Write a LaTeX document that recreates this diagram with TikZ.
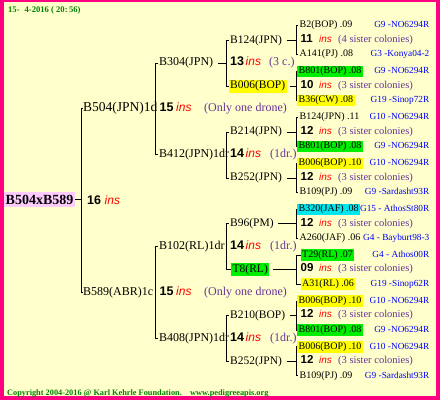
\documentclass[tikz,border=0pt]{standalone}
\usepackage{fontspec}
\setmainfont{Liberation Serif}
\newfontfamily\sansf{Liberation Sans}
\definecolor{bgy}{RGB}{255,255,204}
\definecolor{bord}{RGB}{255,0,128}
\definecolor{insred}{RGB}{255,0,0}
\definecolor{purp}{RGB}{102,51,153}
\definecolor{gblue}{RGB}{0,0,255}
\definecolor{hgreen}{RGB}{0,238,0}
\definecolor{hyellow}{RGB}{255,255,0}
\definecolor{hcyan}{RGB}{0,230,238}
\definecolor{rpink}{RGB}{255,204,255}
\definecolor{tgreen}{RGB}{0,128,0}
\begin{document}
\begin{tikzpicture}[x=1pt,y=-1pt,
  bs/.style={anchor=base west, inner sep=0pt},
  nmA/.style={bs, font=\fontsize{13.5}{14}\selectfont},
  nmB/.style={bs, inner xsep=1pt, font=\fontsize{12}{13}\selectfont},
  nmC/.style={bs, inner xsep=1.5pt, inner ysep=1.3pt, text height=8pt, text depth=2.6pt, font=\fontsize{11.5}{12}\selectfont},
  nmD/.style={bs, inner xsep=1.5pt, inner ysep=1pt, text height=7pt, text depth=2.3pt, font=\fontsize{10}{11}\selectfont},
  cntA/.style={bs, font=\sansf\bfseries\fontsize{12.5}{13}\selectfont},
  cntD/.style={bs, font=\sansf\bfseries\fontsize{11.5}{12}\selectfont},
  insA/.style={bs, text=insred, font=\sansf\itshape\fontsize{12}{13}\selectfont},
  insD/.style={bs, text=insred, font=\sansf\itshape\fontsize{10}{11}\selectfont},
  noteA/.style={bs, text=purp, font=\fontsize{12}{13}\selectfont},
  noteD/.style={bs, text=purp, font=\fontsize{10.5}{11}\selectfont},
  glab/.style={anchor=base east, inner sep=0pt, text=gblue, font=\fontsize{9.3}{10}\selectfont},
  foot/.style={anchor=base west, inner sep=0pt, text=tgreen, font=\bfseries\fontsize{8.3}{9}\selectfont},
  hy/.style={fill=hyellow}, hg/.style={fill=hgreen}, hc/.style={fill=hcyan},
  ln/.style={draw=black, line width=0.9pt}
]
\useasboundingbox (0,0) rectangle (440,400);
\fill[bord] (0,0) rectangle (440,400);
\fill[bgy] (3.5,2) rectangle (436,396);

\coordinate (x1) at (81,0);
\coordinate (x2) at (155,0);
\coordinate (x3) at (226,0);
\coordinate (x4) at (296,0);

% title and footer
\node[anchor=base west, inner sep=0pt, text=tgreen, font=\bfseries\fontsize{8.6}{9}\selectfont] (title) at (8,12.5) {15-\hspace{5pt}4-2016 ( 20:\,56)};
\node[foot] (copy) at (7,395) {Copyright 2004-2016 @ Karl Kehrle Foundation.};
\node[foot] (www) at (190,395) {www.pedigreeapis.org};

% root
\node[anchor=base west, fill=rpink, inner xsep=1.5pt, inner ysep=1.5pt, text height=10.5pt, text depth=1.5pt, font=\bfseries\fontsize{14}{15}\selectfont] (root) at (4,204) {B504xB589};
\node[cntA] (rc) at (87,204) {16};
\node[insA] (ri) at (104.5,204) {ins};

% level 1
\node[nmA] (l1) at (83,111.85) {B504(JPN)1d};
\node[cntA] (l1c) at (159.5,111.85) {15};
\node[insA] (l1i) at (176,111.85) {ins};
\node[noteA] (l1n) at (204,111.85) {(Only one drone)};
\node[nmA, font=\fontsize{12}{13}\selectfont] (l2) at (83,295.45) {B589(ABR)1c};
\node[cntA] (l2c) at (159.5,295.45) {15};
\node[insA] (l2i) at (176,295.45) {ins};
\node[noteA] (l2n) at (204,295.45) {(Only one drone)};

% level 2
\node[nmB] (p1) at (158,65.95) {B304(JPN)};
\node[cntA] (p1c) at (230,65.95) {13};
\node[insA] (p1i) at (245.5,65.95) {ins};
\node[noteA] (p1n) at (269,65.95) {(3 c.)};
\node[nmB] (p2) at (158,157.75) {B412(JPN)1dr};
\node[cntA] (p2c) at (230,157.75) {14};
\node[insA] (p2i) at (245.5,157.75) {ins};
\node[noteA] (p2n) at (270,157.75) {(1dr.)};
\node[nmB] (p3) at (158,249.55) {B102(RL)1dr};
\node[cntA] (p3c) at (230,249.55) {14};
\node[insA] (p3i) at (245.5,249.55) {ins};
\node[noteA] (p3n) at (270,249.55) {(1dr.)};
\node[nmB] (p4) at (158,341.35) {B408(JPN)1dr};
\node[cntA] (p4c) at (230,341.35) {14};
\node[insA] (p4i) at (245.5,341.35) {ins};
\node[noteA] (p4n) at (270,341.35) {(1dr.)};

% level 3
\node[nmC] (m0) at (228.5,43) {B124(JPN)};
\node[nmC, hy] (m1) at (228.5,88.9) {B006(BOP)};
\node[nmC] (m2) at (228.5,134.8) {B214(JPN)};
\node[nmC] (m3) at (228.5,180.7) {B252(JPN)};
\node[nmC] (m4) at (228.5,226.6) {B96(PM)};
\node[nmC, hg] (m5) at (231,272.5) {T8(RL)};
\node[nmC] (m6) at (228.5,318.4) {B210(BOP)};
\node[nmC] (m7) at (228.5,364.3) {B252(JPN)};

% level 4, group 0
\node[nmD] (t0) at (298,27.9) {B2(BOP) .09};
\node[glab] (tg0) at (429.5,27.9) {G9 -NO6294R};
\node[cntD] (n0) at (300.5,42.4) {11};
\node[insD] (i0) at (319,42.4) {ins};
\node[noteD] (s0) at (338,42.4) {(4 sister colonies)};
\node[nmD] (b0) at (298,56.9) {A141(PJ) .08};
\node[glab] (bg0) at (429.5,56.9) {G3 -Konya04-2};
% group 1
\node[nmD, hg] (t1) at (297,73.8) {B801(BOP) .08};
\node[glab] (tg1) at (429.5,73.8) {G9 -NO6294R};
\node[cntD] (n1) at (300.5,88.3) {10};
\node[insD] (i1) at (319,88.3) {ins};
\node[noteD] (s1) at (338,88.3) {(3 sister colonies)};
\node[nmD, hy] (b1) at (297,102.8) {B36(CW) .08};
\node[glab] (bg1) at (429.5,102.8) {G19 -Sinop72R};
% group 2
\node[nmD] (t2) at (298,119.7) {B124(JPN) .11};
\node[glab] (tg2) at (429.5,119.7) {G10 -NO6294R};
\node[cntD] (n2) at (300.5,134.2) {12};
\node[insD] (i2) at (319,134.2) {ins};
\node[noteD] (s2) at (338,134.2) {(3 sister colonies)};
\node[nmD, hg] (b2) at (297,148.7) {B801(BOP) .08};
\node[glab] (bg2) at (429.5,148.7) {G9 -NO6294R};
% group 3
\node[nmD, hy] (t3) at (297,165.6) {B006(BOP) .10};
\node[glab] (tg3) at (429.5,165.6) {G10 -NO6294R};
\node[cntD] (n3) at (300.5,180.1) {12};
\node[insD] (i3) at (319,180.1) {ins};
\node[noteD] (s3) at (338,180.1) {(3 sister colonies)};
\node[nmD] (b3) at (298,194.6) {B109(PJ) .09};
\node[glab] (bg3) at (429.5,194.6) {G9 -Sardasht93R};
% group 4
\node[nmD, hc] (t4) at (297,211.5) {B320(JAF) .08};
\node[glab] (tg4) at (429.5,211.5) {G15 - AthosSt80R};
\node[cntD] (n4) at (300.5,226.0) {12};
\node[insD] (i4) at (319,226.0) {ins};
\node[noteD] (s4) at (338,226.0) {(3 sister colonies)};
\node[nmD] (b4) at (298,240.5) {A260(JAF) .06};
\node[glab] (bg4) at (429.5,240.5) {G4 - Bayburt98-3};
% group 5
\node[nmD, hg] (t5) at (300.5,257.4) {T29(RL) .07};
\node[glab] (tg5) at (429.5,257.4) {G4 - Athos00R};
\node[cntD] (n5) at (300.5,271.9) {09};
\node[insD] (i5) at (319,271.9) {ins};
\node[noteD] (s5) at (338,271.9) {(3 sister colonies)};
\node[nmD, hy] (b5) at (300.5,286.4) {A31(RL) .06};
\node[glab] (bg5) at (429.5,286.4) {G19 -Sinop62R};
% group 6
\node[nmD, hy] (t6) at (297,303.3) {B006(BOP) .10};
\node[glab] (tg6) at (429.5,303.3) {G10 -NO6294R};
\node[cntD] (n6) at (300.5,317.8) {12};
\node[insD] (i6) at (319,317.8) {ins};
\node[noteD] (s6) at (338,317.8) {(3 sister colonies)};
\node[nmD, hg] (b6) at (297,332.3) {B801(BOP) .08};
\node[glab] (bg6) at (429.5,332.3) {G9 -NO6294R};
% group 7
\node[nmD, hy] (t7) at (297,349.2) {B006(BOP) .10};
\node[glab] (tg7) at (429.5,349.2) {G10 -NO6294R};
\node[cntD] (n7) at (300.5,363.7) {12};
\node[insD] (i7) at (319,363.7) {ins};
\node[noteD] (s7) at (338,363.7) {(3 sister colonies)};
\node[nmD] (b7) at (298,378.2) {B109(PJ) .09};
\node[glab] (bg7) at (429.5,378.2) {G9 -Sardasht93R};

% connectors
\draw[ln] (root.east) -- (root.east -| x1);
\draw[ln] (l1.west) -- (l1.west -| x1) |- (l2.west);
\draw[ln] (p1.west) -- (p1.west -| x2) |- (p2.west);
\draw[ln] (p3.west) -- (p3.west -| x2) |- (p4.west);
\draw[ln, shorten <=4pt] (p1.east) -- (p1.east -| x3);
\draw[ln] (m0.west) -- (m0.west -| x3) |- (m1.west);
\draw[ln] (m2.west) -- (m2.west -| x3) |- (m3.west);
\draw[ln] (m4.west) -- (m4.west -| x3) |- (m5.west);
\draw[ln] (m6.west) -- (m6.west -| x3) |- (m7.west);
\foreach \k in {0,...,7}{
  \draw[ln] (t\k.west) -- (t\k.west -| x4) |- (b\k.west);
  \draw[ln, shorten <=3pt] (m\k.east) -- (m\k.east -| x4);
}
\end{tikzpicture}
\end{document}
